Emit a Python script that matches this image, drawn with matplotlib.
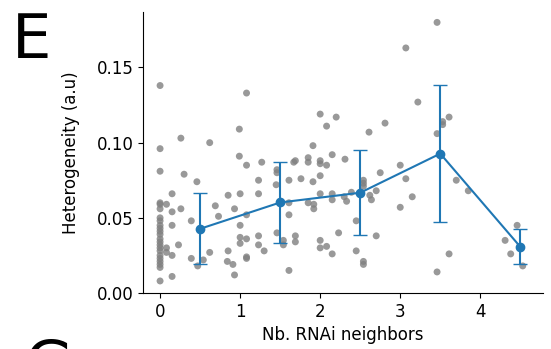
import numpy as np
import matplotlib.pyplot as plt

# individual cells: number of RNAi neighbours vs heterogeneity
cells_x0 = [0.0] * 23
cells_y0 = [0.138, 0.096, 0.081, 0.060, 0.059, 0.056, 0.050, 0.048, 0.045, 0.043,
            0.041, 0.039, 0.036, 0.034, 0.032, 0.030, 0.028, 0.025, 0.023, 0.021,
            0.019, 0.017, 0.008]

cells_x = [0.08, 0.08, 0.08, 0.15, 0.15, 0.15, 0.15, 0.15, 0.23, 0.26, 0.26, 0.30,
           0.39, 0.39, 0.46, 0.47, 0.54, 0.62, 0.62, 0.69, 0.73, 0.85, 0.85, 0.84,
           0.91, 0.93, 0.93, 0.99, 0.99, 1.00, 1.00, 1.00, 1.00, 1.08, 1.08, 1.08,
           1.08, 1.08, 1.08, 1.23, 1.23, 1.23, 1.23, 1.27, 1.30, 1.46, 1.46, 1.45,
           1.46, 1.54, 1.54, 1.61, 1.61, 1.61, 1.61, 1.67, 1.69, 1.69, 1.69, 1.76,
           1.85, 1.85, 1.85, 1.91, 1.91, 1.92, 1.92, 2.00, 2.00, 2.00, 2.00, 2.00,
           2.00, 2.00, 2.08, 2.08, 2.08, 2.15, 2.15, 2.15, 2.15, 2.20, 2.23, 2.31,
           2.30, 2.33, 2.39, 2.45, 2.45, 2.54, 2.54, 2.54, 2.54, 2.54, 2.61, 2.62,
           2.64, 2.70, 2.70, 2.75, 2.81, 3.00, 3.00, 3.07, 3.07, 3.15, 3.22, 3.46,
           3.46, 3.46, 3.53, 3.53, 3.61, 3.61, 3.70, 3.85, 4.31, 4.38, 4.46, 4.53]
cells_y = [0.059, 0.030, 0.027, 0.066, 0.054, 0.045, 0.025, 0.011, 0.032, 0.103, 0.056, 0.079,
           0.048, 0.023, 0.074, 0.018, 0.022, 0.100, 0.027, 0.058, 0.051, 0.065, 0.028, 0.021,
           0.019, 0.056, 0.012, 0.109, 0.091, 0.066, 0.045, 0.037, 0.033, 0.133, 0.085, 0.052,
           0.036, 0.024, 0.023, 0.075, 0.066, 0.038, 0.032, 0.087, 0.028, 0.082, 0.080, 0.072,
           0.040, 0.035, 0.032, 0.075, 0.060, 0.052, 0.015, 0.087, 0.088, 0.038, 0.034, 0.076,
           0.090, 0.087, 0.060, 0.098, 0.074, 0.059, 0.056, 0.119, 0.088, 0.086, 0.078, 0.066,
           0.035, 0.030, 0.111, 0.085, 0.031, 0.092, 0.066, 0.062, 0.026, 0.117, 0.040, 0.089,
           0.064, 0.061, 0.067, 0.048, 0.028, 0.075, 0.073, 0.071, 0.021, 0.019, 0.107, 0.065,
           0.062, 0.068, 0.038, 0.080, 0.113, 0.085, 0.057, 0.163, 0.076, 0.064, 0.127, 0.180,
           0.106, 0.014, 0.114, 0.112, 0.117, 0.026, 0.075, 0.068, 0.035, 0.026, 0.045, 0.018]

# binned means and standard deviations
bin_x = [0.5, 1.5, 2.5, 3.5, 4.5]
bin_mean = [0.0427, 0.0602, 0.0667, 0.0927, 0.0307]
bin_std = [0.0237, 0.0270, 0.0284, 0.0457, 0.0117]

fig = plt.figure(figsize=(5.51, 3.49), dpi=100)
ax = fig.add_axes([0.26, 0.1605, 0.725, 0.8055])

ax.scatter(cells_x0 + cells_x, cells_y0 + cells_y, s=25, color='grey', alpha=0.8,
           edgecolors='none', zorder=1)
ax.errorbar(bin_x, bin_mean, yerr=bin_std, color='#1f77b4', marker='o', markersize=6,
            linewidth=1.5, capsize=5, zorder=3)

ax.set_xlim(-0.21, 4.78)
ax.set_ylim(0, 0.187)
ax.set_xticks([0, 1, 2, 3, 4])
ax.set_yticks([0.0, 0.05, 0.10, 0.15])
ax.set_yticklabels(['0.00', '0.05', '0.10', '0.15'])
ax.tick_params(labelsize=12)
ax.set_xlabel('Nb. RNAi neighbors', fontsize=12)
ax.set_ylabel('Heterogeneity (a.u)', fontsize=12, labelpad=12)
ax.spines['top'].set_visible(False)
ax.spines['right'].set_visible(False)

# panel letters (the one below belongs to the next panel and is clipped)
fig.text(0.022, 0.833, 'E', fontsize=45, ha='left', va='baseline')
fig.text(0.045, -0.103, 'G', fontsize=45, ha='left', va='baseline')

fig.savefig('out.png', dpi=100)
